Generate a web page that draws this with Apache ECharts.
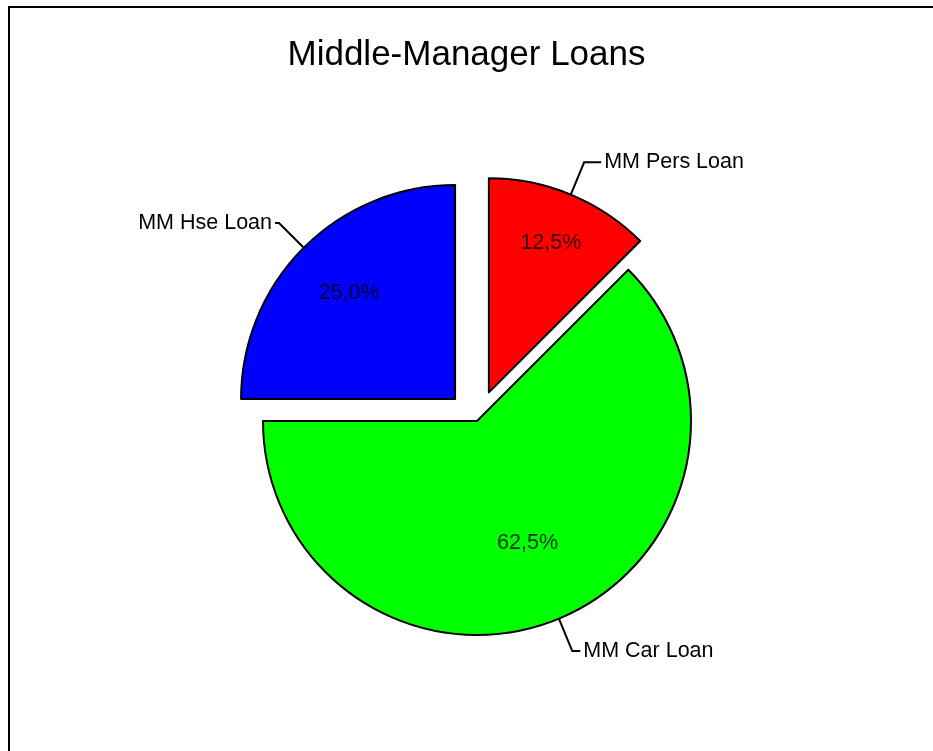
<!DOCTYPE html>
<html>
<head>
<meta charset="utf-8">
<title>Middle-Manager Loans</title>
<script src="https://cdn.jsdelivr.net/npm/echarts@6/dist/echarts.min.js"></script>
<style>
  html, body { margin: 0; padding: 0; background: #fff; }
  #chart { width: 933px; height: 751px; }
</style>
</head>
<body>
<div id="chart"></div>
<script>
// Loan categories and their counts (drawn clockwise from 12 o'clock)
const categories = ['MM Pers Loan', 'MM Car Loan', 'MM Hse Loan'];
const loanCounts = [1, 5, 2];
const sliceColors = ['#ff0000', '#00ff00', '#0000ff'];
const pulledOut = [true, false, true];

// Layout settings
const CENTER = [477, 421];
const RADIUS = 214;
const EXPLODE = 31;
// radial position of the percentage text, as a share of the radius
const innerLabelRadius = [0.757, 0.617, 0.70];
// horizontal run of each leader line
const leaderRun = [17, 8, 4];

const FONT = '"Liberation Sans", Arial, sans-serif';
const LABEL_SIZE = 21.5;

const total = loanCounts.reduce((a, b) => a + b, 0);

const fmtPct = p => p.toFixed(1).replace('.', ',') + '%';

const fillData = categories.map((name, i) => ({
  name: name,
  value: loanCounts[i],
  selected: pulledOut[i],
  itemStyle: { color: sliceColors[i] }
}));

const nameData = categories.map((name, i) => ({
  name: name,
  value: loanCounts[i],
  selected: pulledOut[i],
  labelLine: { length2: leaderRun[i] }
}));

// percentage labels: one point per slice on a polar grid sharing the pie's
// centre; angle = middle of the slice in value units, radius in pixels
const pctPoints = [];
let acc = 0;
loanCounts.forEach((v, i) => {
  const mid = acc + v / 2;
  const r = innerLabelRadius[i] * RADIUS + (pulledOut[i] ? EXPLODE : 0);
  pctPoints.push({ value: [r, mid], share: v / total * 100 });
  acc += v;
});

const sliceStyle = { borderColor: '#000', borderWidth: 2 };

const chart = echarts.init(document.getElementById('chart'), null, { renderer: 'canvas' });

chart.setOption({
  animation: false,
  backgroundColor: '#fff',
  title: {
    text: 'Middle-Manager Loans',
    left: 'center',
    top: 33,
    textStyle: { fontFamily: FONT, fontSize: 35, fontWeight: 'normal', color: '#000' }
  },
  graphic: [{
    type: 'rect',
    shape: { x: 9, y: 7, width: 1000, height: 1000 },
    style: { fill: 'none', stroke: '#000', lineWidth: 2 },
    silent: true
  }],
  polar: { center: CENTER, radius: RADIUS },
  angleAxis: {
    type: 'value', min: 0, max: total, startAngle: 90, clockwise: true,
    show: false, splitLine: { show: false }
  },
  radiusAxis: {
    type: 'value', min: 0, max: RADIUS,
    show: false, splitLine: { show: false }
  },
  series: [
    {
      type: 'pie',
      center: CENTER,
      radius: RADIUS,
      startAngle: 90,
      clockwise: true,
      selectedMode: 'multiple',
      selectedOffset: EXPLODE,
      avoidLabelOverlap: false,
      silent: true,
      itemStyle: sliceStyle,
      select: { itemStyle: sliceStyle },
      emphasis: { disabled: true },
      label: { show: false },
      labelLine: { show: false },
      data: fillData
    },
    {
      type: 'pie',
      center: CENTER,
      radius: RADIUS,
      startAngle: 90,
      clockwise: true,
      selectedMode: 'multiple',
      selectedOffset: EXPLODE,
      avoidLabelOverlap: false,
      silent: true,
      z: 3,
      itemStyle: { color: 'rgba(0,0,0,0)', borderWidth: 0 },
      select: { itemStyle: { color: 'rgba(0,0,0,0)', borderWidth: 0 } },
      emphasis: { disabled: true },
      label: {
        show: true,
        position: 'outside',
        fontFamily: FONT,
        fontSize: LABEL_SIZE,
        color: '#000',
        distanceToLabelLine: 3,
        formatter: '{b}'
      },
      labelLine: {
        show: true,
        length: 35,
        length2: 8,
        smooth: false,
        lineStyle: { color: '#000', width: 2 }
      },
      data: nameData
    },
    {
      type: 'scatter',
      coordinateSystem: 'polar',
      z: 4,
      silent: true,
      symbolSize: 1,
      itemStyle: { color: 'rgba(0,0,0,0)' },
      emphasis: { disabled: true },
      label: {
        show: true,
        position: 'inside',
        fontFamily: FONT,
        fontSize: LABEL_SIZE,
        color: '#000',
        formatter: p => fmtPct(p.data.share)
      },
      data: pctPoints
    }
  ]
});
</script>
</body>
</html>
